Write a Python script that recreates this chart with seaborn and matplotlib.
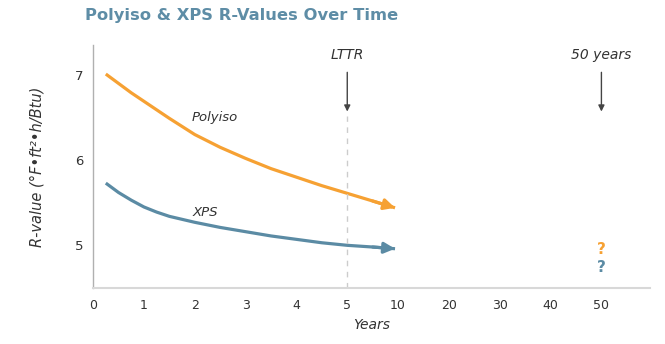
import matplotlib
matplotlib.use("Agg")
import matplotlib.pyplot as plt
import seaborn as sns
import pandas as pd

# ---- data ----
tick_labels = ["0", "1", "2", "3", "4", "5", "10", "20", "30", "40", "50"]
years_pos = [0.25, 0.5, 0.75, 1, 1.25, 1.5, 2, 2.5, 3, 3.5, 4, 4.5, 5, 5.5, 5.94]
polyiso = [7.01, 6.90, 6.79, 6.69, 6.59, 6.49, 6.30, 6.15, 6.02, 5.90, 5.80, 5.70, 5.61, 5.52, 5.44]
xps = [5.73, 5.62, 5.53, 5.45, 5.39, 5.34, 5.27, 5.21, 5.16, 5.11, 5.07, 5.03, 5.00, 4.98, 4.96]
unknown_50 = {"Polyiso": 4.95, "XPS": 4.74}
lttr_pos = 5
fifty_pos = 10

orange = "#F6A133"
blue = "#5B8BA4"

sns.set_style("white")
plt.rcParams["font.family"] = ["DejaVu Sans"]

df = pd.concat([
    pd.DataFrame({"x": years_pos, "R": polyiso, "Material": "Polyiso"}),
    pd.DataFrame({"x": years_pos, "R": xps, "Material": "XPS"}),
])

fig = plt.figure(figsize=(6.65, 3.44), dpi=100)
ax = fig.add_axes([0.14, 0.163, 0.837, 0.706])

sns.lineplot(data=df, x="x", y="R", hue="Material",
             palette={"Polyiso": orange, "XPS": blue},
             linewidth=2.3, legend=False, ax=ax,
             solid_capstyle="butt", solid_joinstyle="round")

# arrow heads
for vals, c in [(polyiso, orange), (xps, blue)]:
    ax.annotate("", xy=(years_pos[-1], vals[-1]), xytext=(years_pos[-2], vals[-2]),
                arrowprops=dict(arrowstyle="-|>", color=c, lw=2.3,
                                mutation_scale=16, shrinkA=0, shrinkB=0))

ax.set_xlim(0, 10.95)
ax.set_ylim(4.5, 7.35)
ax.set_xticks(range(len(tick_labels)))
ax.set_xticklabels(tick_labels)
ax.set_yticks([5, 6, 7])
ax.set_yticks([5.5, 6.5], minor=True)

for s in ["top", "right"]:
    ax.spines[s].set_visible(False)
ax.spines["left"].set_color("#b0b0b0")
ax.spines["left"].set_linewidth(1.0)
ax.spines["bottom"].set_color("#d8d8d8")
ax.spines["bottom"].set_linewidth(1.5)

ax.tick_params(axis="x", direction="inout", length=12, width=1.2, color="#d8d8d8",
               labelsize=9, labelcolor="#333333", pad=2)
ax.tick_params(axis="y", which="both", direction="inout", length=12, width=1.0,
               color="#cccccc", labelsize=9.5, labelcolor="#333333", pad=1)

ax.set_xlabel("Years", fontstyle="italic", fontsize=10, color="#333333", labelpad=4)
ax.set_ylabel("R-value (°F•ft²•h/Btu)", fontstyle="italic", fontsize=10.5,
              color="#333333", labelpad=22)

# LTTR dashed line and annotations
ax.plot([lttr_pos, lttr_pos], [4.5, 6.52], color="#cccccc", lw=1.0, ls=(0, (4, 4)))
for xp, lab in [(lttr_pos, "LTTR"), (fifty_pos, "50 years")]:
    ax.annotate("", xy=(xp, 6.57), xytext=(xp, 7.03),
                arrowprops=dict(arrowstyle="-|>", color="#444444", lw=1.0,
                                mutation_scale=9, shrinkA=0, shrinkB=0))
    ax.text(xp, 7.23, lab, ha="center", va="center", fontstyle="italic",
            fontsize=10, color="#333333")

ax.text(2.4, 6.5, "Polyiso", fontstyle="italic", fontsize=9.5, color="#333333",
        ha="center", va="center")
ax.text(2.2, 5.39, "XPS", fontstyle="italic", fontsize=9.5, color="#333333",
        ha="center", va="center")

ax.text(fifty_pos, unknown_50["Polyiso"], "?", color=orange, fontweight="bold",
        fontsize=11, ha="center", va="center")
ax.text(fifty_pos, unknown_50["XPS"], "?", color=blue, fontweight="bold",
        fontsize=11, ha="center", va="center")

fig.text(0.128, 0.955, "Polyiso & XPS R-Values Over Time", fontsize=11.8,
         fontweight="bold", color="#5E8DA6", ha="left", va="center")

fig.savefig("out.png", dpi=100)
